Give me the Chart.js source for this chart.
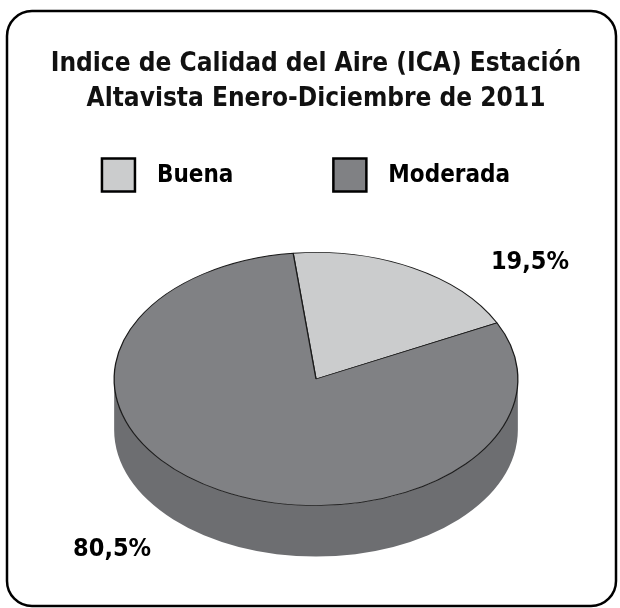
<!DOCTYPE html>
<html>
<head>
<meta charset="utf-8">
<script src="https://cdn.jsdelivr.net/npm/chart.js@4.4.0/dist/chart.umd.min.js"></script>
<style>
  html, body { margin: 0; padding: 0; background: #fff; }
</style>
</head>
<body>
<canvas id="icaChart" width="620" height="608"></canvas>
<script>
// data
const categories = ['Buena', 'Moderada'];
const shares = [19.5, 80.5];
const shareLabels = ['19,5%', '80,5%'];
const titleLines = ['Indice de Calidad del Aire (ICA) Estación', 'Altavista Enero-Diciembre de 2011'];

const topColors = ['#cbcccd', '#808184'];
const sideColors = ['#a3a4a6', '#6d6e71'];

// 3d look: vertical squash of the pie and thickness of the disc
const TILT = 0.627;
const DEPTH = 51;
// where the percentage labels sit, in units of the pie radius from the top face centre
const labelAnchors = [[1.06, -0.92], [-1.01, 1.35]];

const LABEL_FONT = 'bold 25px "DejaVu Sans Condensed", "DejaVu Sans", sans-serif';

function frontSegments(start, end) {
    // parts of an arc that face the viewer (canvas angles 0..PI)
    const segs = [];
    for (let n = -1; n <= 1; n++) {
        const a = Math.max(start, n * 2 * Math.PI);
        const b = Math.min(end, n * 2 * Math.PI + Math.PI);
        if (b > a) segs.push([a, b]);
    }
    return segs;
}

const framePlugin = {
    id: 'frame',
    beforeDraw(chart) {
        const ctx = chart.ctx;
        ctx.save();
        ctx.fillStyle = '#fff';
        ctx.fillRect(0, 0, chart.width, chart.height);
        ctx.beginPath();
        ctx.roundRect(7, 11, 609, 595, 25);
        ctx.lineWidth = 2.5;
        ctx.strokeStyle = '#000';
        ctx.stroke();
        ctx.restore();
    }
};

const pie3dPlugin = {
    id: 'pie3d',
    beforeDatasetsDraw(chart) {
        const ctx = chart.ctx;
        const arcs = chart.getDatasetMeta(0).data;
        const cx = arcs[0].x, cy = arcs[0].y, r = arcs[0].outerRadius;
        const ry = r * TILT;
        arcs.forEach((arc, i) => {
            frontSegments(arc.startAngle, arc.endAngle).forEach(([a0, a1]) => {
                ctx.beginPath();
                ctx.ellipse(cx, cy - DEPTH / 2, r, ry, 0, a0, a1);
                ctx.ellipse(cx, cy + DEPTH / 2, r, ry, 0, a1, a0, true);
                ctx.closePath();
                ctx.fillStyle = sideColors[i];
                ctx.fill();
            });
        });
        // top face: let chart.js draw the arcs in a squashed space
        ctx.save();
        ctx.translate(cx, cy - DEPTH / 2);
        ctx.scale(1, TILT);
        ctx.translate(-cx, -cy);
    },
    afterDatasetsDraw(chart) {
        chart.ctx.restore();
    }
};

const labelPlugin = {
    id: 'shareLabels',
    afterDraw(chart) {
        const ctx = chart.ctx;
        const arcs = chart.getDatasetMeta(0).data;
        const cx = arcs[0].x, cy = arcs[0].y - DEPTH / 2, r = arcs[0].outerRadius;
        ctx.save();
        ctx.font = LABEL_FONT;
        ctx.fillStyle = '#000';
        ctx.textAlign = 'center';
        ctx.textBaseline = 'middle';
        shareLabels.forEach((txt, i) => {
            const [ux, uy] = labelAnchors[i];
            ctx.fillText(txt, cx + ux * r, cy + uy * r * TILT);
        });
        ctx.restore();
    }
};

const legendPlugin = {
    id: 'boxLegend',
    afterDraw(chart) {
        const ctx = chart.ctx;
        const box = 33, gap = 22, itemGap = 100, midY = 175, centerX = 306;
        ctx.save();
        ctx.font = 'bold 24px "DejaVu Sans Condensed", "DejaVu Sans", sans-serif';
        const widths = categories.map(c => box + gap + ctx.measureText(c).width);
        const total = widths.reduce((a, b) => a + b, 0) + itemGap * (categories.length - 1);
        let x = centerX - total / 2;
        categories.forEach((c, i) => {
            ctx.fillStyle = topColors[i];
            ctx.fillRect(x, midY - box / 2, box, box);
            ctx.lineWidth = 2.5;
            ctx.strokeStyle = '#000';
            ctx.strokeRect(x, midY - box / 2, box, box);
            ctx.fillStyle = '#000';
            ctx.textAlign = 'left';
            ctx.textBaseline = 'middle';
            ctx.fillText(c, x + box + gap, midY + 1);
            x += widths[i] + itemGap;
        });
        ctx.restore();
    }
};

const ctx = document.getElementById('icaChart').getContext('2d');

const icaChart = new Chart(ctx, {
    type: 'pie',
    data: {
        labels: categories,
        datasets: [{
            data: shares,
            backgroundColor: topColors,
            borderColor: '#1a1a1a',
            borderWidth: 1.3
        }]
    },
    options: {
        responsive: false,
        animation: false,
        events: [],
        rotation: -6.5,
        layout: { padding: { left: 20, right: 8, top: 0, bottom: 1 } },
        plugins: {
            legend: { display: false },
            tooltip: { enabled: false },
            title: {
                display: true,
                text: titleLines,
                color: '#111',
                font: { family: '"DejaVu Sans Condensed", "DejaVu Sans", sans-serif', size: 26, weight: 'bold', lineHeight: 1.35 },
                padding: { top: 46.5, bottom: 85.3 }
            }
        }
    },
    plugins: [framePlugin, pie3dPlugin, labelPlugin, legendPlugin]
});
</script>
</body>
</html>
